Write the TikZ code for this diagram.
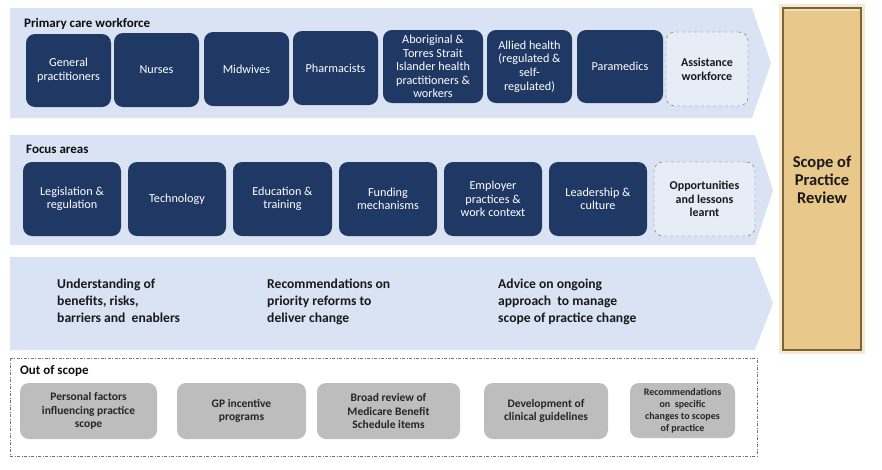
\documentclass[tikz,border=0pt]{standalone}
\usepackage{fontspec}
\setmainfont{Carlito}
\definecolor{band}{HTML}{DAE3F3}
\definecolor{navy}{HTML}{203864}
\definecolor{dashfill}{HTML}{E6EDF7}
\definecolor{greybox}{HTML}{BDBDBD}
\definecolor{tanfill}{HTML}{E9C88C}
\definecolor{tanedge}{HTML}{7A6437}
\newcommand\mybox[7]{\node[#1, minimum width={#5-#3}, minimum height={#6-#4}] (#2) at ({(#3+#5)/2},{(#4+#6)/2}) {#7};}
\tikzset{
  bandshape/.style={fill=band, draw=none},
  wbox/.style={rounded corners=9pt, fill=navy, text=white, align=center, inner sep=0pt, font=\fontsize{12.2}{13.6}\selectfont},
  dbox/.style={rounded corners=9pt, fill=dashfill, draw=black!60, dashed, align=center, inner sep=0pt, text=black!90, font=\bfseries\fontsize{12}{13.8}\selectfont},
  gbox/.style={rounded corners=9pt, fill=greybox, align=center, inner sep=0pt, text=black!85, font=\bfseries\fontsize{11.5}{13.5}\selectfont},
  ttl/.style={anchor=base west, inner sep=0pt, text=black!95, font=\bfseries\fontsize{13}{15}\selectfont},
  outtext/.style={anchor=north west, align=left, inner sep=0pt, text=black!90, font=\bfseries\fontsize{13.6}{17}\selectfont},
}
\begin{document}
\begin{tikzpicture}[x=1pt,y=-1pt]
\useasboundingbox (0,0) rectangle (882,469);
\fill[white] (0,0) rectangle (882,469);
% bands
\path[bandshape] (10,8) -- (752,8) -- (771,63) -- (752,118) -- (10,118) -- cycle;
\path[bandshape] (10,135) -- (755,135) -- (773,190) -- (755,245) -- (10,245) -- cycle;
\path[bandshape] (10,257) -- (755,257) -- (773,303) -- (755,350) -- (10,350) -- cycle;
% titles
\node[ttl] (t1) at (24,27) {Primary care workforce};
\node[ttl] (t2) at (26,153) {Focus areas};
% row 1
\mybox{wbox}{gp}{26}{34}{111}{107}{General\\practitioners}
\mybox{wbox}{nurses}{114}{33}{199}{107}{Nurses}
\mybox{wbox}{midw}{204}{32}{289}{106}{Midwives}
\mybox{wbox}{pharm}{293}{31}{378}{105}{Pharmacists}
\mybox{wbox}{abor}{383}{30}{483}{103}{Aboriginal \&\\Torres Strait\\Islander health\\practitioners \&\\workers}
\mybox{wbox}{allied}{487}{30}{572}{103}{Allied health\\(regulated \&\\self-\\regulated)}
\mybox{wbox}{para}{577}{30}{663}{103}{Paramedics}
\mybox{dbox}{assist}{666}{32}{748}{106}{Assistance\\workforce}
% row 2
\mybox{wbox}{leg}{23}{162}{121}{236}{Legislation \&\\regulation}
\mybox{wbox}{tech}{128}{162}{226}{236}{Technology}
\mybox{wbox}{edu}{233}{162}{332}{236}{Education \&\\training}
\mybox{wbox}{fund}{339}{162}{437}{236}{Funding\\mechanisms}
\mybox{wbox}{emp}{444}{162}{542}{236}{Employer\\practices \&\\work context}
\mybox{wbox}{lead}{549}{162}{647}{236}{Leadership \&\\culture}
\mybox{dbox}{opp}{654}{162}{755}{236}{Opportunities\\and lessons\\learnt}
% row 3
\node[outtext] (o1) at (57,279) {Understanding of\\benefits, risks,\\barriers and \ enablers};
\node[outtext] (o2) at (267,279) {Recommendations on\\priority reforms to\\deliver change};
\node[outtext] (o3) at (498,279) {Advice on ongoing\\approach \ to manage\\scope of practice change};
% out of scope
\draw[black!55, dash pattern=on 3pt off 1.5pt on 1pt off 1.5pt] (10,358) rectangle (757,456);
\node[ttl] (t3) at (20,374) {Out of scope};
\mybox{gbox}{pf}{20}{383}{157}{439}{Personal factors\\influencing practice\\scope}
\mybox{gbox}{gpi}{177}{383}{306}{439}{GP incentive\\programs}
\mybox{gbox}{broad}{317}{383}{460}{439}{Broad review of\\Medicare Benefit\\Schedule items}
\mybox{gbox}{dev}{484}{383}{608}{439}{Development of\\clinical guidelines}
\mybox{gbox, font=\bfseries\fontsize{10}{12}\selectfont}{rec}{630}{383}{735}{438}{Recommendations\\on \ specific\\changes to scopes\\of practice}
% scope of practice review
\fill[tanfill!40] (779,4) rectangle (865,354);
\fill[tanfill] (783,8) rectangle (861,350);
\draw[tanedge, line width=1.6pt] (783,8) rectangle (861,350);
\draw[tanfill!60!white, line width=1.2pt] (785,10) -- (859,10);
\node[align=center, inner sep=0pt, text=black!90, font=\bfseries\fontsize{16.5}{18}\selectfont] (spr) at (822,180) {Scope of\\Practice\\Review};
\end{tikzpicture}
\end{document}
